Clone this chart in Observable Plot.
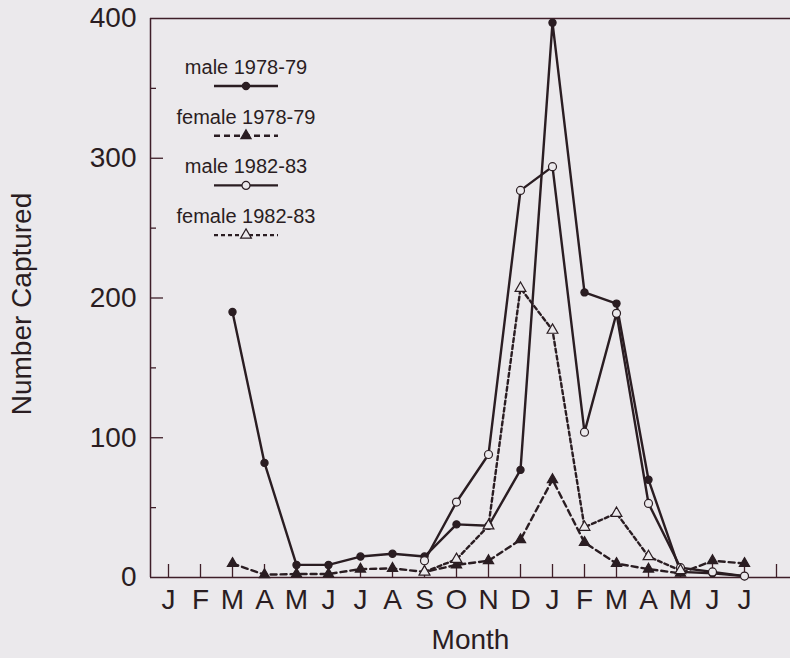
<!DOCTYPE html>
<html>
<head>
<meta charset="utf-8">
<script src="https://cdn.jsdelivr.net/npm/d3@7"></script>
<script src="https://cdn.jsdelivr.net/npm/@observablehq/plot@0.6"></script>
<style>
  html, body { margin: 0; padding: 0; background: #ebe9ec; }
  #wrap { position: relative; width: 790px; height: 658px; font-family: "Liberation Sans", Arial, sans-serif; }
  #overlay { position: absolute; left: 0; top: 0; pointer-events: none; }
</style>
</head>
<body>
<div id="wrap"></div>
<script>
// ---- data ----
const monthLabels = ["J","F","M","A","M","J","J","A","S","O","N","D","J","F","M","A","M","J","J"];
const tickMonths = d3.range(1, 21);          // tick marks (one extra at the right end)
const yMajor = [0, 100, 200, 300, 400];
const yMinor = [50, 150, 250, 350];
const xTitle = "Month";
const yTitle = "Number Captured";

// month index 1 = J (first), 19 = J (last)
const male7879Start = 3;
const male7879 = [190, 82, 9, 9, 15, 17, 15, 38, 37, 77, 397, 204, 196, 70, 4, 3, 1];
const female7879Start = 3;
const female7879 = [10, 2, 2.5, 2.5, 6, 6.5, 4, 9, 12, 27, 70, 25, 10, 6, 3, 12, 10];
const male8283Start = 9;
const male8283 = [12, 54, 88, 277, 294, 104, 189, 53, 7, 4, 1];
const female8283Start = 9;
const female8283 = [4, 13, 37, 207, 177, 36, 46, 15, 5];

const seriesNames = ["male 1978-79", "female 1978-79", "male 1982-83", "female 1982-83"];

// ---- build table ----
function rows(name, start, vals) {
  return vals.map((v, i) => ({series: name, month: start + i, value: v}));
}
const data = [
  ...rows(seriesNames[0], male7879Start, male7879),
  ...rows(seriesNames[1], female7879Start, female7879),
  ...rows(seriesNames[2], male8283Start, male8283),
  ...rows(seriesNames[3], female8283Start, female8283)
];

const ink = "#2a1d22";
const axisInk = "#3f1f29";
const bg = "#ebe9ec";
const font = "'Liberation Sans', Arial, sans-serif";
const styles = {
  [seriesNames[0]]: {dash: null, symbol: "circle", fill: ink, r: 3.6},
  [seriesNames[1]]: {dash: "6,4", symbol: "triangle", fill: ink, r: 3.8},
  [seriesNames[2]]: {dash: null, symbol: "circle", fill: bg, r: 4},
  [seriesNames[3]]: {dash: "4,3", symbol: "triangle", fill: bg, r: 4}
};

const W = 790, H = 658, mL = 150, mR = 0, mT = 18, mB = 81;
const plotW = W - mL - mR, plotH = H - mT - mB;
const xDomain = [0.4375, 20.4375];

const marks = [
  Plot.ruleY([0, 400], {stroke: axisInk, strokeWidth: 1.5}),
  Plot.ruleX([xDomain[0]], {stroke: axisInk, strokeWidth: 1.5}),
  Plot.tickX(tickMonths, {x: d => d, insetTop: plotH - 13, stroke: axisInk, strokeWidth: 1.3}),
  Plot.tickY(yMajor.slice(1, 4), {y: d => d, insetRight: plotW - 13, stroke: axisInk, strokeWidth: 1.3}),
  Plot.tickY(yMinor, {y: d => d, insetRight: plotW - 6, stroke: axisInk, strokeWidth: 1.3}),
  Plot.axisX(d3.range(1, 20), {tickSize: 0, tickPadding: 12, tickFormat: i => monthLabels[i - 1], fontSize: 28, fill: ink, label: null}),
  Plot.axisY(yMajor, {tickSize: 0, tickPadding: 14, fontSize: 28, fill: ink, label: null}),
  Plot.text([xTitle], {frameAnchor: "bottom", dy: 63, fontSize: 28, fill: ink, lineAnchor: "middle"})
];

for (const s of seriesNames) {
  const st = styles[s];
  marks.push(Plot.line(data.filter(d => d.series === s), {
    x: "month", y: "value", stroke: ink, strokeWidth: 2.4,
    strokeDasharray: st.dash
  }));
}
for (const s of seriesNames) {
  const st = styles[s];
  marks.push(Plot.dot(data.filter(d => d.series === s), {
    x: "month", y: "value", symbol: st.symbol, r: st.r,
    fill: st.fill, stroke: ink, strokeWidth: 1.2
  }));
}

const chart = Plot.plot({
  width: W, height: H,
  marginLeft: mL, marginRight: mR, marginTop: mT, marginBottom: mB,
  x: {type: "linear", domain: xDomain, label: null},
  y: {type: "linear", domain: [0, 400], label: null},
  style: {background: bg, fontFamily: font, color: ink, overflow: "visible"},
  marks
});
document.getElementById("wrap").appendChild(chart);

// ---- overlay: y title + legend ----
const ov = d3.select("#wrap").append("svg")
  .attr("id", "overlay").attr("width", W).attr("height", H);
ov.append("text")
  .attr("transform", "translate(21,304) rotate(-90)")
  .attr("text-anchor", "middle").attr("dominant-baseline", "central")
  .attr("font-family", font).attr("font-size", 28).attr("fill", ink)
  .text(yTitle);

const cx = 246;
seriesNames.forEach((s, i) => {
  const st = styles[s];
  const base = 74 + i * 49.7;
  ov.append("text").attr("x", cx).attr("y", base)
    .attr("text-anchor", "middle")
    .attr("font-family", font)
    .attr("font-size", 20).attr("fill", ink).text(s);
  const ly = base + 12;
  ov.append("line").attr("x1", cx - 32).attr("x2", cx + 32)
    .attr("y1", ly).attr("y2", ly)
    .attr("stroke", ink).attr("stroke-width", 2.4)
    .attr("stroke-dasharray", st.dash);
  const sym = d3.symbol(st.symbol === "circle" ? d3.symbolCircle : d3.symbolTriangle, Math.PI * st.r * st.r);
  ov.append("path").attr("d", sym())
    .attr("transform", `translate(${cx},${ly})`)
    .attr("fill", st.fill).attr("stroke", ink).attr("stroke-width", 1.2);
});
</script>
</body>
</html>
